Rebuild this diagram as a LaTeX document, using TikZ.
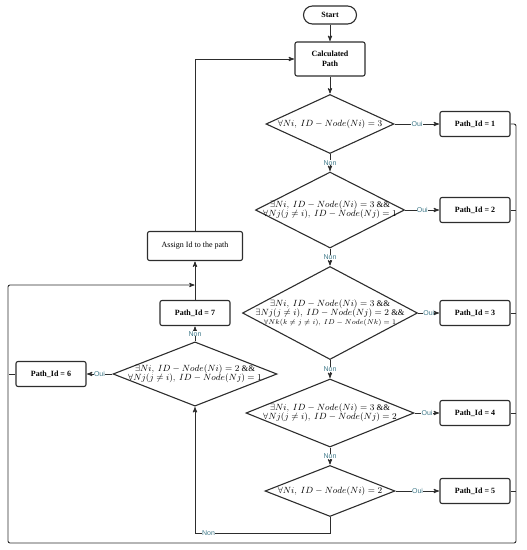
\documentclass[tikz,border=0pt]{standalone}
\usepackage{fontspec}
\setmainfont{Liberation Serif}
\setsansfont{Liberation Sans}
\usetikzlibrary{arrows,shapes.geometric}
\definecolor{labelteal}{RGB}{64,122,138}
\definecolor{linegray}{RGB}{45,45,45}

\begin{document}
\begin{tikzpicture}[x=1pt,y=1pt,->,>=stealth',shorten >=0.5pt,line width=0.9pt,draw=linegray,
  box/.style={rectangle,draw,line width=1.1pt,rounded corners=2pt,font=\bfseries\footnotesize,align=center,minimum width=70pt,minimum height=25pt,inner sep=1pt},
  terminal/.style={box,rounded corners=9pt,minimum width=53pt,minimum height=18pt},
  test/.style={diamond,draw,line width=1.1pt,aspect=2,inner sep=-7pt,font=\fontsize{8.6}{9.4}\selectfont,align=center},
  answer/.style={font=\sffamily\scriptsize,text=labelteal,fill=white,inner sep=0.3pt}]

 \useasboundingbox (0,0) rectangle (527,-550);

 \node[terminal] (start) at (330,-15) {Start};
 \node[box,minimum height=34pt] (calc) [below of=start,node distance=44pt] {Calculated\\Path};
 \node[test,minimum width=128pt,minimum height=59pt] (t1) [below of=calc,node distance=65pt]
   {$\forall Ni,\ ID-Node(Ni)=3$};
 \node[test,minimum width=149pt,minimum height=76pt] (t2) [below of=t1,node distance=86pt]
   {$\exists Ni,\ ID-Node(Ni)=3$ \&\&\\ $\forall Nj(j\neq i),\ ID-Node(Nj)=1$};
 \node[test,minimum width=175pt,minimum height=93pt] (t3) [below of=t2,node distance=103pt]
   {$\exists Ni,\ ID-Node(Ni)=3$ \&\&\\ $\exists Nj(j\neq i),\ ID-Node(Nj)=2$ \&\&\\
    {\scriptsize $\forall Nk(k\neq j\neq i),\ ID-Node(Nk)=1$}};
 \node[test,minimum width=168pt,minimum height=68pt] (t4) [below of=t3,node distance=100pt]
   {$\exists Ni,\ ID-Node(Ni)=3$ \&\&\\ $\forall Nj(j\neq i),\ ID-Node(Nj)=2$};
 \node[test,minimum width=130pt,minimum height=51pt] (t5) [below of=t4,node distance=78pt]
   {$\forall Ni,\ ID-Node(Ni)=2$};

 \node[box] (p1) [right of=t1,node distance=145pt] {Path\_Id = 1};
 \node[box] (p2) [right of=t2,node distance=145pt] {Path\_Id = 2};
 \node[box] (p3) [right of=t3,node distance=145pt] {Path\_Id = 3};
 \node[box] (p4) [right of=t4,node distance=145pt] {Path\_Id = 4};
 \node[box] (p5) [right of=t5,node distance=145pt] {Path\_Id = 5};

 \node[box,font=\footnotesize,minimum width=95pt,minimum height=29pt] (assign) at (195,-246) {Assign Id to the path};
 \node[box] (p7) [below of=assign,node distance=67pt] {Path\_Id = 7};
 \node[test,minimum width=164pt,minimum height=60pt] (t6) [below of=p7,node distance=61pt]
   {$\exists Ni,\ ID-Node(Ni)=2$ \&\&\\ $\forall Nj(j\neq i),\ ID-Node(Nj)=1$};
 \node[box] (p6) [left of=t6,node distance=144pt] {Path\_Id = 6};

 \coordinate (loopr) at (330,-533);
 \coordinate (loopl) at (195,-533);
 \coordinate (busr) at (516,-543);
 \coordinate (busl) at (8,-543);
 \coordinate (bust) at (8,-285);
 \coordinate (join) at (195,-285);

 \path
    (start)  edge (calc)
    (calc)   edge (t1)
    (t1)     edge node[answer] {Oui} (p1)
    (t1)     edge node[answer] {Non} (t2)
    (t2)     edge node[answer] {Oui} (p2)
    (t2)     edge node[answer] {Non} (t3)
    (t3)     edge node[answer] {Oui} (p3)
    (t3)     edge node[answer] {Non} (t4)
    (t4)     edge node[answer] {Oui} (p4)
    (t4)     edge node[answer] {Non} (t5)
    (t5)     edge node[answer] {Oui} (p5)
    (t6)     edge node[answer] {Oui} (p6)
    (t6)     edge node[answer] {Non} (p7)
    (p7)     edge (assign);

 \draw (assign) |- (calc);
 \draw (t5) -- (loopr) -- node[answer,pos=0.9] {Non} (loopl) -- (t6);
 \draw[rounded corners=2pt] (p1.east) -| (busr) -- (busl) -- (bust) -- (join);
 \foreach \p in {p2,p3,p4,p5}
   \draw[-] (\p.east) -- (\p.east -| busr);
 \draw[-] (p6.west) -- (p6.west -| busl);

\end{tikzpicture}
\end{document}
